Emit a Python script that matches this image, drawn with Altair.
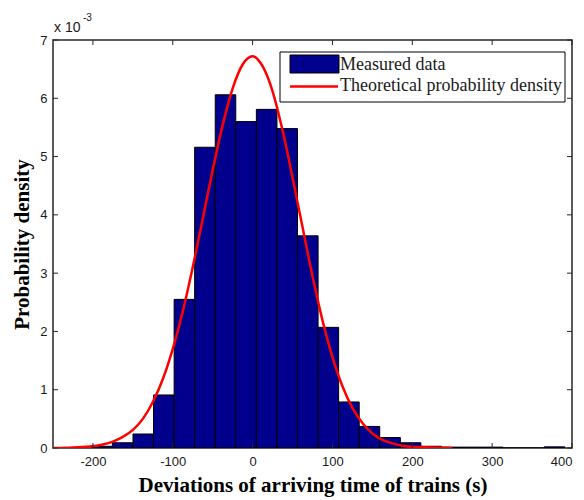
import altair as alt
import pandas as pd

# Histogram of arrival-time deviations (density, in units of 1e-3)
bin_left = [-201.3, -175.6, -149.8, -124.1, -98.3, -72.6, -46.8, -21.1, 4.7, 30.5,
            56.2, 82.0, 107.7, 133.5, 159.2, 185.0, 210.7, 236.5, 262.2, 288.0,
            313.7, 339.5, 365.2]
bin_right = [-175.6, -149.8, -124.1, -98.3, -72.6, -46.8, -21.1, 4.7, 30.5, 56.2,
             82.0, 107.7, 133.5, 159.2, 185.0, 210.7, 236.5, 262.2, 288.0, 313.7,
             339.5, 365.2, 391.0]
density = [0.03, 0.09, 0.24, 0.91, 2.55, 5.16, 6.06, 5.60, 5.81, 5.48,
           3.64, 2.07, 0.79, 0.37, 0.18, 0.09, 0.03, 0.015, 0.015, 0.015,
           0.0, 0.0, 0.02]

# Theoretical probability density curve (units of 1e-3)
curve_x = [-250, -225, -200, -187.5, -175, -162.5, -150, -137.5, -125, -112.5,
           -100, -87.5, -75, -62.5, -50, -37.5, -25, -12.5, 0, 12.5,
           25, 37.5, 50, 62.5, 75, 87.5, 100, 112.5, 125, 137.5,
           150, 162.5, 175, 187.5, 200, 225, 250]
curve_y = [0.00, 0.01, 0.03, 0.06, 0.11, 0.19, 0.31, 0.50, 0.79, 1.18,
           1.70, 2.34, 3.10, 3.93, 4.77, 5.54, 6.17, 6.58, 6.72, 6.55,
           6.12, 5.45, 4.64, 3.79, 2.95, 2.19, 1.56, 1.06, 0.69, 0.43,
           0.25, 0.14, 0.08, 0.04, 0.02, 0.01, 0.00]

x_ticks = [-200, -100, 0, 100, 200, 300, 400]
y_ticks = [0, 1, 2, 3, 4, 5, 6, 7]

W, H = 519, 408
FRAME = "#262626"
BAR = "#00008C"
SERIF = "Liberation Serif"
SANS = "Liberation Sans"

xs = alt.Scale(domain=[-250, 400], nice=False, zero=False)
ys = alt.Scale(domain=[0, 7], nice=False, zero=False)

bars_df = pd.DataFrame({"left": bin_left, "right": bin_right,
                        "density": density, "base": [0.0] * len(density)})
curve_df = pd.DataFrame({"x": curve_x, "y": curve_y})
xt_df = pd.DataFrame({"v": x_ticks})
yt_df = pd.DataFrame({"v": y_ticks})
one = pd.DataFrame({"k": [0]})

# plain hyphen for negative tick labels
plain_label = "'' + datum.value"

x_axis = alt.Axis(values=x_ticks, labelExpr=plain_label,
                  title="Deviations of arriving time of trains (s)",
                  titleFont=SERIF, titleFontWeight="bold", titleFontSize=21, titleColor="black",
                  labelFont=SANS, labelFontSize=13, labelColor="#1a1a1a",
                  ticks=False, domain=False, grid=False, labelPadding=7, titlePadding=6)
y_axis = alt.Axis(values=y_ticks, labelExpr=plain_label, title="Probability density",
                  titleFont=SERIF, titleFontWeight="bold", titleFontSize=21, titleColor="black",
                  labelFont=SANS, labelFontSize=13, labelColor="#1a1a1a",
                  ticks=False, domain=False, grid=False, labelPadding=6, titlePadding=7)


def X(field):
    return alt.X(field, scale=xs, axis=x_axis)


def Y(field):
    return alt.Y(field, scale=ys, axis=y_axis)


bars = alt.Chart(bars_df).mark_rect(fill=BAR, stroke="black", strokeWidth=1, clip=True).encode(
    x=X("left:Q"), x2="right:Q", y=Y("density:Q"), y2="base:Q",
)

curve = alt.Chart(curve_df).mark_line(color="#FF0000", strokeWidth=2.5,
                                      interpolate="monotone", clip=True).encode(
    x=X("x:Q"), y=Y("y:Q"),
)

# inward tick marks on all four sides of the box
tick_top = alt.Chart(xt_df).mark_rule(color=FRAME, strokeWidth=1).encode(
    x=X("v:Q"), y=alt.value(0), y2=alt.value(5))
tick_bottom = alt.Chart(xt_df).mark_rule(color=FRAME, strokeWidth=1).encode(
    x=X("v:Q"), y=alt.value(H), y2=alt.value(H - 5))
tick_left = alt.Chart(yt_df).mark_rule(color=FRAME, strokeWidth=1).encode(
    y=Y("v:Q"), x=alt.value(0), x2=alt.value(5))
tick_right = alt.Chart(yt_df).mark_rule(color=FRAME, strokeWidth=1).encode(
    y=Y("v:Q"), x=alt.value(W), x2=alt.value(W - 5))

# legend box
leg_box = alt.Chart(one).mark_rect(fill="white", stroke="black", strokeWidth=1).encode(
    x=alt.value(227), x2=alt.value(512), y=alt.value(12), y2=alt.value(62))
leg_patch = alt.Chart(one).mark_rect(fill=BAR, stroke="black", strokeWidth=1).encode(
    x=alt.value(237), x2=alt.value(286), y=alt.value(15), y2=alt.value(33))
leg_line = alt.Chart(one).mark_rule(color="#FF0000", strokeWidth=2.5).encode(
    x=alt.value(237), x2=alt.value(285), y=alt.value(46.5))
leg_t1 = alt.Chart(one).mark_text(align="left", baseline="alphabetic", font=SERIF,
                                  fontSize=18, color="#1a1a1a").encode(
    x=alt.value(287), y=alt.value(30), text=alt.value("Measured data"))
leg_t2 = alt.Chart(one).mark_text(align="left", baseline="alphabetic", font=SERIF,
                                  fontSize=18, color="#1a1a1a").encode(
    x=alt.value(287), y=alt.value(51), text=alt.value("Theoretical probability density"))

# axis multiplier
mult = alt.Chart(one).mark_text(align="left", baseline="alphabetic", font=SANS,
                                fontSize=14, color="#1a1a1a").encode(
    x=alt.value(1), y=alt.value(-8), text=alt.value("x 10"))
mult_exp = alt.Chart(one).mark_text(align="left", baseline="alphabetic", font=SANS,
                                    fontSize=10, color="#1a1a1a").encode(
    x=alt.value(30), y=alt.value(-19), text=alt.value("-3"))

chart = alt.layer(
    bars, curve, tick_top, tick_bottom, tick_left, tick_right,
    leg_box, leg_patch, leg_line, leg_t1, leg_t2, mult, mult_exp,
).properties(
    width=W, height=H,
    autosize=alt.AutoSizeParams(type="none"),
    padding={"left": 53, "top": 40, "right": 12, "bottom": 52},
    background="white",
).configure_view(stroke=FRAME, strokeWidth=1.5)

chart.save("out.html", embed_options={"renderer": "svg", "actions": False})
